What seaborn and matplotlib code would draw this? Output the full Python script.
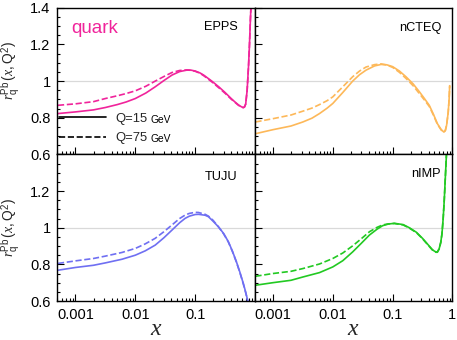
import matplotlib
matplotlib.use("Agg")
import matplotlib.pyplot as plt
from matplotlib.lines import Line2D
from matplotlib.ticker import FixedLocator, LogLocator, FuncFormatter, NullFormatter
import pandas as pd
import seaborn as sns

# ---------------- data ----------------
models = ["EPPS", "nCTEQ", "TUJU", "nIMP"]
colors = {"EPPS": "#f0249b", "nCTEQ": "#fdb859", "TUJU": "#6f6ff2", "nIMP": "#22c922"}

epps_x15 = [5.1e-4, 0.001, 0.002, 0.00316, 0.005, 0.007, 0.01, 0.015, 0.0215, 0.03, 0.041, 0.055, 0.0726,
            0.085, 0.1, 0.12, 0.14, 0.19, 0.25, 0.316, 0.4, 0.46, 0.53, 0.6, 0.64, 0.67, 0.7, 0.74, 0.78,
            0.81, 0.84, 0.87]
epps_r15 = [0.823, 0.832, 0.843, 0.856, 0.872, 0.886, 0.905, 0.935, 0.969, 1.003, 1.033, 1.052, 1.060,
            1.060, 1.055, 1.045, 1.032, 1.000, 0.968, 0.938, 0.905, 0.887, 0.870, 0.859, 0.856, 0.860, 0.875,
            0.950, 1.080, 1.200, 1.340, 1.450]
epps_x75 = epps_x15
epps_r75 = [0.868, 0.876, 0.888, 0.905, 0.920, 0.932, 0.947, 0.972, 1.000, 1.025, 1.047, 1.058, 1.061,
            1.059, 1.054, 1.043, 1.029, 0.996, 0.963, 0.934, 0.902, 0.885, 0.868, 0.858, 0.855, 0.859, 0.875,
            0.950, 1.080, 1.200, 1.340, 1.450]

ncteq_x15 = [5.1e-4, 0.001, 0.002, 0.00316, 0.0045, 0.006, 0.008, 0.01, 0.0147, 0.0215, 0.028, 0.036, 0.05,
             0.064, 0.08, 0.1, 0.13, 0.167, 0.22, 0.28, 0.34, 0.41, 0.48, 0.56, 0.65, 0.72, 0.76, 0.80,
             0.85, 0.88, 0.90]
ncteq_r15 = [0.713, 0.735, 0.755, 0.777, 0.798, 0.823, 0.852, 0.878, 0.938, 1.000, 1.035, 1.060, 1.083,
             1.091, 1.089, 1.079, 1.055, 1.024, 0.985, 0.942, 0.905, 0.868, 0.820, 0.768, 0.735, 0.722, 0.730,
             0.760, 0.830, 0.900, 0.975]
ncteq_x75 = ncteq_x15
ncteq_r75 = [0.777, 0.795, 0.815, 0.836, 0.853, 0.872, 0.893, 0.914, 0.969, 1.024, 1.055, 1.077, 1.090,
             1.094, 1.088, 1.075, 1.048, 1.015, 0.975, 0.932, 0.897, 0.862, 0.815, 0.765, 0.733, 0.722, 0.730,
             0.760, 0.830, 0.900, 0.975]

tuju_x15 = [5.1e-4, 0.001, 0.002, 0.00316, 0.006, 0.01, 0.0147, 0.0215, 0.03, 0.041, 0.055, 0.068, 0.08,
            0.1, 0.114, 0.147, 0.167, 0.2, 0.245, 0.3, 0.36, 0.42, 0.49, 0.56, 0.64, 0.7, 0.76, 0.8]
tuju_r15 = [0.768, 0.783, 0.795, 0.808, 0.828, 0.850, 0.874, 0.905, 0.945, 0.987, 1.027, 1.051, 1.063,
            1.072, 1.073, 1.068, 1.060, 1.035, 1.005, 0.968, 0.923, 0.872, 0.814, 0.757, 0.695, 0.648, 0.600,
            0.560]
tuju_x75 = tuju_x15
tuju_r75 = [0.805, 0.819, 0.832, 0.845, 0.865, 0.887, 0.912, 0.942, 0.978, 1.015, 1.050, 1.069, 1.078,
            1.084, 1.083, 1.073, 1.063, 1.040, 1.005, 0.966, 0.921, 0.870, 0.812, 0.755, 0.692, 0.645, 0.597,
            0.560]

nimp_x15 = [5.1e-4, 0.001, 0.002, 0.00316, 0.006, 0.01, 0.0147, 0.0215, 0.03, 0.041, 0.055, 0.068, 0.085,
            0.107, 0.15, 0.19, 0.25, 0.316, 0.38, 0.46, 0.5, 0.53, 0.56, 0.6, 0.64, 0.67, 0.7, 0.73, 0.76, 0.8]
nimp_r15 = [0.686, 0.700, 0.713, 0.731, 0.755, 0.786, 0.820, 0.868, 0.915, 0.960, 0.992, 1.011, 1.020,
            1.024, 1.017, 1.000, 0.975, 0.942, 0.912, 0.881, 0.872, 0.868, 0.868, 0.885, 0.923, 0.970, 1.050,
            1.150, 1.270, 1.420]
nimp_x75 = nimp_x15
nimp_r75 = [0.735, 0.750, 0.762, 0.777, 0.802, 0.832, 0.862, 0.901, 0.940, 0.978, 1.002, 1.015, 1.021,
            1.023, 1.015, 0.998, 0.973, 0.940, 0.910, 0.879, 0.870, 0.866, 0.866, 0.884, 0.920, 0.968, 1.050,
            1.150, 1.270, 1.420]

series = {
    "EPPS": [(epps_x15, epps_r15), (epps_x75, epps_r75)],
    "nCTEQ": [(ncteq_x15, ncteq_r15), (ncteq_x75, ncteq_r75)],
    "TUJU": [(tuju_x15, tuju_r15), (tuju_x75, tuju_r75)],
    "nIMP": [(nimp_x15, nimp_r15), (nimp_x75, nimp_r75)],
}
q_labels = ["Q=15", "Q=75"]
q_unit = "GeV"
y_ticks = [0.6, 0.8, 1.0, 1.2, 1.4]
x_ticklabels = {1e-3: "0.001", 1e-2: "0.01", 1e-1: "0.1", 1.0: "1"}

# ---------------- style ----------------
sns.set_theme(style="ticks")
plt.rcParams["font.family"] = ["Liberation Sans", "DejaVu Sans"]
plt.rcParams["mathtext.fontset"] = "custom"
plt.rcParams["mathtext.rm"] = "Liberation Sans"
plt.rcParams["mathtext.it"] = "Liberation Serif:italic"
plt.rcParams["mathtext.bf"] = "Liberation Sans:bold"

fig, axes = plt.subplots(2, 2, figsize=(4.57, 3.40), dpi=100)
fig.subplots_adjust(left=0.1258, right=0.990, top=0.977, bottom=0.1147, wspace=0, hspace=0)

label_pos = {"EPPS": (0.914, 0.87), "nCTEQ": (0.947, 0.865), "TUJU": (0.913, 0.846), "nIMP": (0.94, 0.863)}

for idx, (ax, m) in enumerate(zip(axes.flat, models)):
    row, col = divmod(idx, 2)
    ax.axhline(1.0, color="#d9d9d9", lw=0.9, zorder=0)
    for (xs, ys), ls in zip(series[m], ["-", "--"]):
        df = pd.DataFrame({"x": xs, "r": ys})
        sns.lineplot(data=df, x="x", y="r", ax=ax, color=colors[m], linestyle=ls,
                     lw=1.2, estimator=None, sort=False)
    ax.set_xscale("log")
    ax.set_xlim(5e-4, 1.0)
    ax.set_ylim(0.6, 1.4)
    ax.yaxis.set_major_locator(FixedLocator(y_ticks))
    ax.yaxis.set_minor_locator(FixedLocator([0.6 + 0.05 * i for i in range(17)]))
    ax.xaxis.set_major_locator(LogLocator(base=10, numticks=10))
    ax.xaxis.set_minor_locator(LogLocator(base=10, subs=[2, 3, 4, 5, 6, 7, 8, 9], numticks=20))
    ax.xaxis.set_minor_formatter(NullFormatter())

    def yfmt(v, p, row=row):
        if row == 1 and abs(v - 1.4) < 1e-6:
            return ""
        return "1" if abs(v - 1) < 1e-6 else f"{v:.1f}"

    def xfmt(v, p, col=col):
        for k, s in x_ticklabels.items():
            if abs(v / k - 1) < 1e-6:
                if col == 0 and k == 1.0:
                    return ""
                return s
        return ""

    ax.yaxis.set_major_formatter(FuncFormatter(yfmt))
    ax.xaxis.set_major_formatter(FuncFormatter(xfmt))
    ax.tick_params(which="both", direction="in", top=False, right=False, colors="black",
                   labelsize=10.5, pad=5)
    ax.tick_params(which="major", length=4.8, width=0.8)
    ax.tick_params(which="minor", length=2.4, width=0.8)
    ax.tick_params(axis="x", labelbottom=(row == 1))
    ax.tick_params(axis="y", labelleft=(col == 0))
    for s in ax.spines.values():
        s.set_color("black")
        s.set_linewidth(1.0)

    if col == 0:
        ax.set_ylabel(r"$r_{\rm q}^{\rm Pb}\,(x,{\rm Q}^2)$", fontsize=10)
        ax.yaxis.set_label_coords(-0.18, 0.57 if row == 0 else 0.50)
    else:
        ax.set_ylabel("")
    if row == 1:
        ax.set_xlabel("$x$", fontsize=17)
        ax.xaxis.set_label_coords(0.5, -0.115)
    else:
        ax.set_xlabel("")

    ax.text(label_pos[m][0], label_pos[m][1], m, transform=ax.transAxes,
            ha="right", va="center", fontsize=9.2, color="black")

ax0 = axes[0, 0]
ax0.text(0.072, 0.86, "quark", transform=ax0.transAxes, ha="left", va="center",
         fontsize=13.5, color=colors["EPPS"])
handles = [Line2D([], [], color="black", lw=1.2, ls="-"), Line2D([], [], color="black", lw=1.2, ls="--")]
leg = ax0.legend(handles, q_labels, loc="lower left", bbox_to_anchor=(0.01, 0.07), frameon=False,
                 fontsize=9.4, handlelength=3.6, handletextpad=0.7, labelspacing=0.55,
                 borderpad=0, borderaxespad=0)

fig.canvas.draw()
renderer = fig.canvas.get_renderer()
inv = ax0.transAxes.inverted()
for t in leg.get_texts():
    bb = t.get_window_extent(renderer)
    x0, y0 = inv.transform((bb.x1 + 3, bb.y0))
    ax0.text(x0, y0, q_unit, transform=ax0.transAxes, ha="left", va="bottom",
             fontsize=7.4, color="black")

fig.savefig("out.png", dpi=100)
